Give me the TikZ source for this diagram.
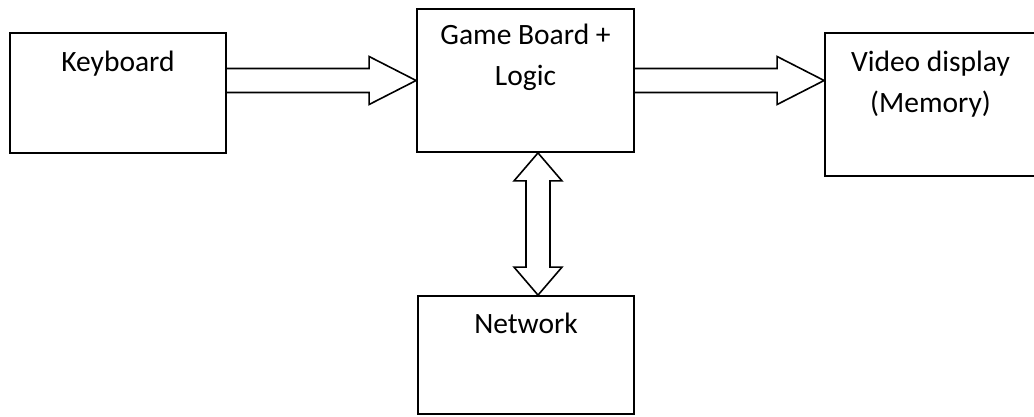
\documentclass[tikz,border=0pt]{standalone}
\usepackage{fontspec}
\setmainfont{Carlito}
\usetikzlibrary{calc}

\begin{document}
\begin{tikzpicture}[
  x=1pt,
  y=-1pt,
  every node/.style={font=\fontsize{29.5}{41}\selectfont,inner sep=0pt},
  unit/.style={draw,rectangle,line width=1.8pt},
  caption/.style={anchor=base,align=center},
  blockarrow/.style={line width=1.6pt,line join=miter}
]
\useasboundingbox (0,0) rectangle (1034,416);

% Units
\node[unit,minimum width=216,minimum height=120] (kbd) at (118,93) {};
\node[unit,minimum width=217,minimum height=143] (game) at (525.5,80.5) {};
\node[unit,minimum width=215,minimum height=143] (video) at (932.5,104.5) {};
\node[unit,minimum width=216,minimum height=118] (net) at (526,355) {};

% Captions (base is on the last line)
\node[caption] (kbd-text) at ($(kbd.north)+(0,39)$) {Keyboard};
\node[caption] (game-text) at ($(game.north)+(0,77)$) {Game Board +\\Logic};
\node[caption] (video-text) at ($(video.north)+(-2,80)$) {Video display\\(Memory)};
\node[caption] (net-text) at ($(net.north)+(0,38)$) {Network};

% Keyboard -> game board
\coordinate (k1) at (kbd.east |- game.west);
\draw[blockarrow] ($(k1)+(0,-12)$) -- ($(game.west)+(-47,-12)$) -- ++(0,-12)
  -- (game.west) -- ++(-47,24) -- ++(0,-12) -- ($(k1)+(0,12)$);

% Game board -> video display
\coordinate (v1) at (video.west |- game.east);
\draw[blockarrow] ($(game.east)+(0,-12)$) -- ($(v1)+(-47,-12)$) -- ++(0,-12)
  -- (v1) -- ++(-47,24) -- ++(0,-12) -- ($(game.east)+(0,12)$);

% Game board <-> network
\coordinate (g1) at ($(game.south)+(12.5,0)$);
\coordinate (n1) at ($(net.north)+(12,0)$);
\draw[blockarrow] (g1) -- ++(24,28) -- ++(-12,0) -- ($(n1)+(12,-28)$) -- ++(12,0)
  -- (n1) -- ++(-24,-28) -- ++(12,0) -- ($(g1)+(-12,28)$) -- ++(-12,0) -- cycle;
\end{tikzpicture}
\end{document}
